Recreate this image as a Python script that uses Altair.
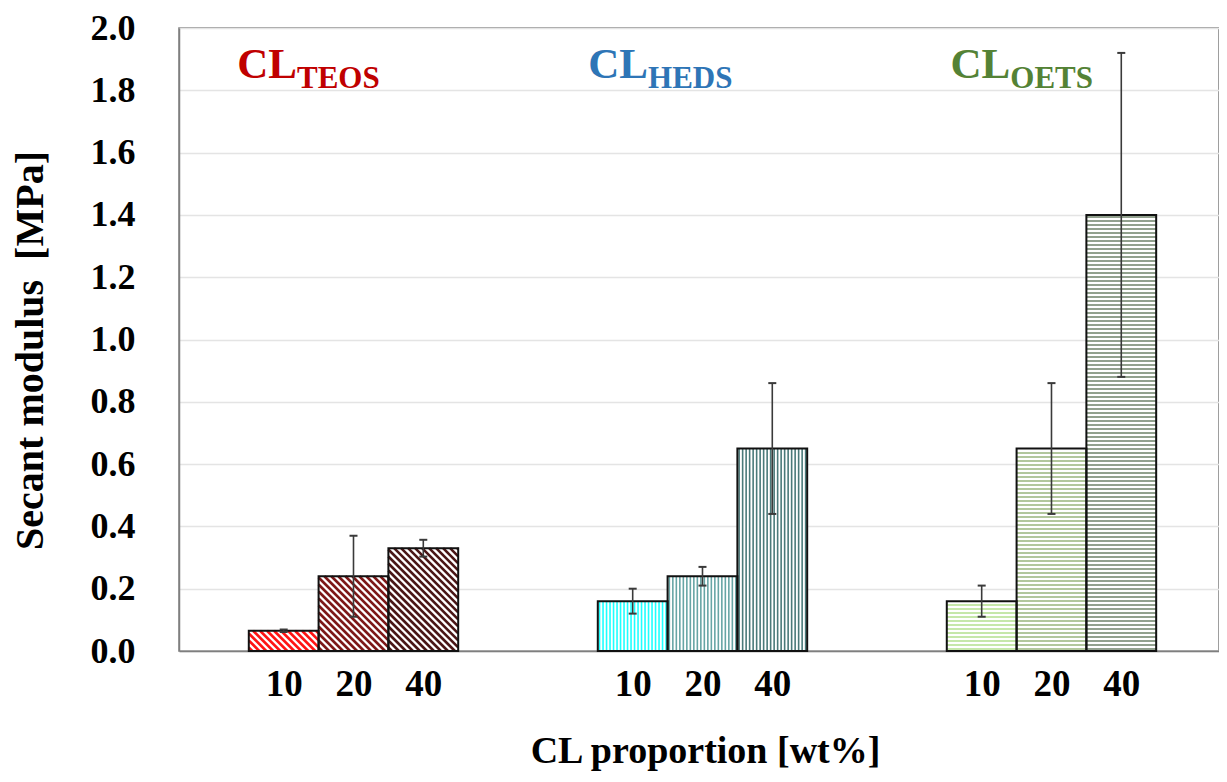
import altair as alt
import pandas as pd

# ---------------- data ----------------
groups = ["TEOS", "HEDS", "OETS"]
proportions = ["10", "20", "40"]
secant = [[0.065, 0.24, 0.33],
          [0.16, 0.24, 0.65],
          [0.16, 0.65, 1.40]]
errors = [[0.004, 0.13, 0.027],
          [0.04, 0.03, 0.21],
          [0.05, 0.21, 0.52]]
stripe_colors = [["#ff1414", "#7d1818", "#4a1616"],
                 ["#1effff", "#66a5a5", "#4a7a7a"],
                 ["#b3df8e", "#98b47c", "#6e8268"]]
label_colors = ["#c00000", "#2e75b6", "#548235"]
hatch_kind = ["diag", "vert", "horiz"]
label_anchor_x = [1.69, 6.72, 11.91]   # end of "CL" in x units
label_anchor_y = 1.84

# ---------------- layout ----------------
W, H = 1040, 623
XMAX = 14.9
YMAX = 2.0
kx = W / XMAX
ky = H / YMAX
FONT = "Liberation Serif"

bars = []
for gi, g in enumerate(groups):
    for pi, p in enumerate(proportions):
        x0 = 1 + 5 * gi + pi
        v = secant[gi][pi]
        e = errors[gi][pi]
        bars.append(dict(group=g, prop=p, x0=x0, x1=x0 + 1, xc=x0 + 0.5,
                         v=v, lo=v - e, hi=v + e,
                         c0=x0 + 0.5 - 4 / kx, c1=x0 + 0.5 + 4 / kx,
                         color=stripe_colors[gi][pi], kind=hatch_kind[gi]))
bars_df = pd.DataFrame(bars)

# hatch lines derived from each bar's rectangle
diag, vert, horiz = [], [], []
for b in bars:
    Wp = kx * 1.0
    Hp = b["v"] * ky
    if b["kind"] == "diag":
        per = 7.0
        c = per / 2
        while c < Wp + Hp:
            xa = max(0.0, c - Hp)
            xb = min(Wp, c)
            diag.append(dict(x=b["x0"] + xa / kx, x2=b["x0"] + xb / kx,
                             y=(c - xa) / ky, y2=(c - xb) / ky, color=b["color"]))
            c += per
    elif b["kind"] == "vert":
        per = 3.5
        c = per / 2
        while c < Wp:
            vert.append(dict(x=b["x0"] + c / kx, y=0.0, y2=b["v"], color=b["color"]))
            c += per
    else:
        per = 4.0
        c = per / 2
        while c < Hp - 0.5:
            horiz.append(dict(x=b["x0"], x2=b["x1"], y=c / ky, color=b["color"]))
            c += per
diag_df = pd.DataFrame(diag)
vert_df = pd.DataFrame(vert)
horiz_df = pd.DataFrame(horiz)

lab_df = pd.DataFrame(dict(main=["CL"] * 3, sub=groups, color=label_colors,
                           xa=label_anchor_x, ya=[label_anchor_y] * 3))

xscale = alt.Scale(domain=[0, XMAX], nice=False, zero=False)
yscale = alt.Scale(domain=[0, YMAX], nice=False)

centers = [b["xc"] for b in bars]
label_expr = ("(datum.value % 5) < 2 ? '10' : (datum.value % 5) < 3 ? '20' : '40'")

x_axis = alt.Axis(values=centers, labelExpr=label_expr, grid=False, ticks=False,
                  domainColor="#7f7f7f", domainWidth=1.5,
                  labelFont=FONT, labelFontSize=37, labelFontWeight="bold",
                  labelColor="black", labelPadding=44, labelBaseline="alphabetic",
                  title="CL proportion [wt%]", titleFont=FONT, titleFontSize=38,
                  titleFontWeight="bold", titleColor="black",
                  titleX=526, titleY=111, titleAlign="center",
                  titleBaseline="alphabetic")
y_axis = alt.Axis(values=[i / 5 for i in range(11)], format=".1f", grid=True,
                  gridColor="#e4e4e4", gridWidth=1.5, ticks=False,
                  domainColor="#7f7f7f", domainWidth=1.5,
                  labelFont=FONT, labelFontSize=36, labelFontWeight="bold",
                  labelColor="black", labelPadding=44,
                  title="Secant modulus\u00a0 [MPa]", titleFont=FONT, titleFontSize=40,
                  titleFontWeight="bold", titleColor="black",
                  titleAngle=270, titleX=-149, titleY=322, titleAlign="center",
                  titleBaseline="middle")


def X(f):
    return alt.X(f, scale=xscale, axis=x_axis)


def Y(f):
    return alt.Y(f, scale=yscale, axis=y_axis)


base_bars = alt.Chart(bars_df).mark_rect(fill="white", strokeWidth=0).encode(
    x=X("x0:Q"), x2="x1:Q", y=Y("v:Q"), y2=alt.datum(0),
)

diag_layer = alt.Chart(diag_df).mark_rule(strokeWidth=2.6).encode(
    x=X("x:Q"), x2="x2:Q", y=Y("y:Q"), y2="y2:Q",
    color=alt.Color("color:N", scale=None),
)
vert_layer = alt.Chart(vert_df).mark_rule(strokeWidth=1.6).encode(
    x=X("x:Q"), y=Y("y:Q"), y2="y2:Q",
    color=alt.Color("color:N", scale=None),
)
horiz_layer = alt.Chart(horiz_df).mark_rule(strokeWidth=1.7).encode(
    x=X("x:Q"), x2="x2:Q", y=Y("y:Q"),
    color=alt.Color("color:N", scale=None),
)

outline = alt.Chart(bars_df).mark_rect(fillOpacity=0, stroke="#111111", strokeWidth=2).encode(
    x=X("x0:Q"), x2="x1:Q", y=Y("v:Q"), y2=alt.datum(0),
)

err_line = alt.Chart(bars_df).mark_rule(color="#3a3a3a", strokeWidth=1.6).encode(
    x=X("xc:Q"), y=Y("lo:Q"), y2="hi:Q",
)
cap_hi = alt.Chart(bars_df).mark_rule(color="#3a3a3a", strokeWidth=2).encode(
    x=X("c0:Q"), x2="c1:Q", y=Y("hi:Q"),
)
cap_lo = alt.Chart(bars_df).mark_rule(color="#3a3a3a", strokeWidth=2).encode(
    x=X("c0:Q"), x2="c1:Q", y=Y("lo:Q"),
)

main_lab = alt.Chart(lab_df).mark_text(align="right", baseline="alphabetic",
                                        font=FONT, fontSize=43, fontWeight="bold").encode(
    x=X("xa:Q"), y=Y("ya:Q"), text="main:N",
    color=alt.Color("color:N", scale=None),
)
sub_lab = alt.Chart(lab_df).mark_text(align="left", baseline="alphabetic", dy=10,
                                       font=FONT, fontSize=31, fontWeight="bold").encode(
    x=X("xa:Q"), y=Y("ya:Q"), text="sub:N",
    color=alt.Color("color:N", scale=None),
)

chart = alt.layer(
    base_bars, diag_layer, vert_layer, horiz_layer, outline,
    err_line, cap_hi, cap_lo, main_lab, sub_lab,
).properties(
    width=W, height=H,
    autosize=alt.AutoSizeParams(type="none"),
    padding={"left": 171, "top": 20, "right": 0, "bottom": 120},
    background="white",
).configure_view(stroke="#7f7f7f", strokeWidth=1.5)

chart.save("out.html", embed_options={"renderer": "svg", "actions": False})
